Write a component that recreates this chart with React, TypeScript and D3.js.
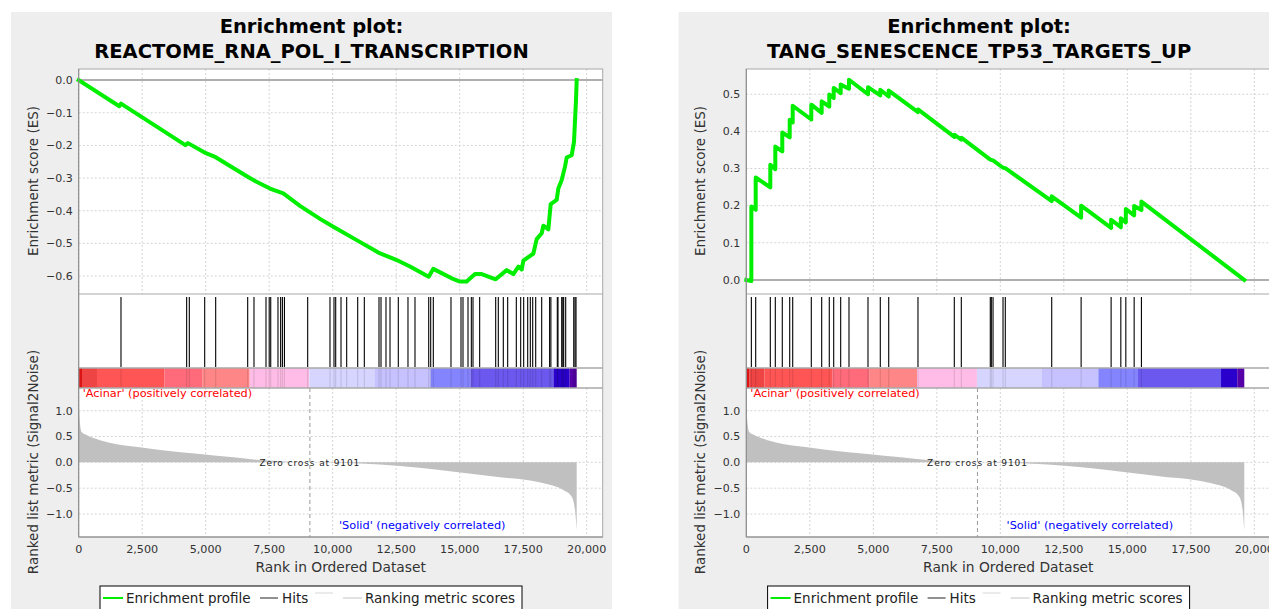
import React from "react";
import * as d3 from "d3";

// ---------- DATA ----------
const rankTicks = [0, 2500, 5000, 7500, 10000, 12500, 15000, 17500, 20000];
const metricTicks = [1.0, 0.5, 0.0, -0.5, -1.0];
const leftEsTicks = [0.0, -0.1, -0.2, -0.3, -0.4, -0.5, -0.6];
const rightEsTicks = [0.0, 0.1, 0.2, 0.3, 0.4, 0.5];

const leftTitle = "REACTOME_RNA_POL_I_TRANSCRIPTION";
const rightTitle = "TANG_SENESCENCE_TP53_TARGETS_UP";

const leftHits = [
  1665, 4250, 4355, 4960, 5393, 6653, 6901, 7374, 7500, 7560, 7846, 7950, 8020, 8100,
  9015, 9893, 10051, 10118, 10327, 10550, 10984, 11245, 11823, 11902, 12098, 12256,
  12583, 12964, 13240, 13780, 13858, 13961, 14657, 15051, 15130, 15327, 15458, 15524,
  15786, 16417, 16520, 16717, 16889, 17229, 17401, 17519, 17677, 17780, 17874, 17992,
  18228, 18540, 18590, 18843, 18870, 19016, 19060, 19094, 19173, 19490, 19540, 19579,
];

const rightHits = [
  199, 370, 945, 1142, 1417, 1709, 1827, 2559, 2968, 3267, 3441, 3716, 4043, 4791,
  5275, 5607, 6759, 8189, 8465, 9606, 9647, 9714, 10107, 10197, 12024, 13182, 14363,
  14745, 14942, 15270, 15556,
];

const leftEsRanks = [
  0, 1600, 1665, 4200, 4300, 4960, 5393, 6653, 6941, 7531, 8055, 8712, 9500, 10024,
  10945, 11797, 12520, 13043, 13780, 13961, 14685, 15012, 15275, 15603, 15866, 16417,
  16850, 17113, 17310, 17441, 17507, 17900, 18031, 18228, 18293, 18490, 18582, 18818,
  18883, 19016, 19146, 19212, 19409, 19500, 19579, 19606,
];
const leftEsValues = [
  0, -0.08, -0.072, -0.199, -0.193, -0.222, -0.236, -0.296, -0.309, -0.332, -0.347,
  -0.385, -0.425, -0.449, -0.49, -0.528, -0.551, -0.571, -0.602, -0.578, -0.607,
  -0.617, -0.617, -0.594, -0.594, -0.61, -0.582, -0.594, -0.571, -0.58, -0.553,
  -0.531, -0.487, -0.469, -0.446, -0.457, -0.38, -0.367, -0.332, -0.306, -0.265,
  -0.237, -0.23, -0.189, -0.061, 0,
];

const rightEsRanks = [
  0, 199, 199, 370, 370, 945, 945, 1142, 1142, 1417, 1417, 1709, 1709, 1827, 1827,
  2559, 2559, 2968, 2968, 3267, 3267, 3441, 3441, 3716, 3716, 4043, 4043, 4791, 4791,
  5275, 5275, 5607, 5607, 6759, 6759, 8189, 8189, 8465, 8465, 9606, 9714, 10107,
  10197, 12024, 12024, 13182, 13182, 14363, 14363, 14745, 14745, 14942, 14942, 15270,
  15270, 15556, 15556, 19606,
];
const rightEsValues = [
  0, -0.003, 0.198, 0.189, 0.276, 0.249, 0.31, 0.298, 0.359, 0.346, 0.397, 0.384,
  0.431, 0.424, 0.469, 0.432, 0.472, 0.45, 0.481, 0.467, 0.499, 0.49, 0.517, 0.503,
  0.526, 0.515, 0.539, 0.5, 0.519, 0.497, 0.512, 0.494, 0.51, 0.452, 0.459, 0.385,
  0.391, 0.378, 0.383, 0.324, 0.322, 0.302, 0.301, 0.212, 0.225, 0.168, 0.2, 0.14,
  0.162, 0.142, 0.166, 0.155, 0.191, 0.174, 0.199, 0.188, 0.211, 0,
];

const metricRanks = [
  0, 50, 118, 315, 840, 1495, 2480, 3465, 4775, 6087, 7137, 9101, 11075, 12650, 13961,
  15275, 16587, 17637, 18424, 19081, 19409, 19540, 19606,
];
const metricValues = [
  1.14, 0.75, 0.59, 0.53, 0.43, 0.35, 0.29, 0.225, 0.16, 0.097, 0.045, 0, -0.02, -0.07,
  -0.135, -0.21, -0.29, -0.34, -0.42, -0.535, -0.665, -0.92, -1.31,
];

const zeroCross = 9101;
const datasetSize = 19606;

const barStarts = [0, 130, 720, 3380, 4860, 6730, 9080, 11640, 13860, 15420, 18690, 19330];
const barEnds = [130, 720, 3380, 4860, 6730, 9080, 11640, 13860, 15420, 18690, 19330, 19606];
const barColors = [
  "#dc1414", "#ee4444", "#ff5555", "#ff6b7b", "#ff8686", "#ffbce6",
  "#d5d5ff", "#c6c2ff", "#8484ff", "#6b58ee", "#2a00cc", "#5600a8",
];

// ---------- LAYOUT ----------
const FONT = "DejaVu Sans";
const PX0 = 78.7;
const PX1 = 602.7;
const TOP_Y0 = 69;
const TOP_Y1 = 294;
const HIT_Y1 = 368;
const BAR_Y1 = 388;
const MET_Y1 = 537;

type PanelProps = {
  dx: number;
  title: string;
  esRanks: number[];
  esValues: number[];
  esTicks: number[];
  esDomain: [number, number];
  hits: number[];
};

function Panel({ dx, title, esRanks, esValues, esTicks, esDomain, hits }: PanelProps) {
  const x = d3.scaleLinear().domain([0, 20630]).range([PX0 + dx, PX1 + dx]);
  const yEs = d3.scaleLinear().domain(esDomain).range([TOP_Y1, TOP_Y0]);
  const yM = d3.scaleLinear().domain([-1.445, 1.44]).range([MET_Y1, BAR_Y1]);
  const fx = d3.format(",");
  const fy = d3.format(".1f");

  const esPts: [number, number][] = esRanks.map((r, i) => [r, esValues[i]]);
  const esLine = d3
    .line<[number, number]>()
    .x((d) => x(d[0]))
    .y((d) => yEs(d[1]));

  const mPts: [number, number][] = metricRanks.map((r, i) => [r, metricValues[i]]);
  const mArea = d3
    .area<[number, number]>()
    .x((d) => x(d[0]))
    .y0(yM(0))
    .y1((d) => yM(d[1]))
    .curve(d3.curveMonotoneX);

  const left = PX0 + dx;
  const right = PX1 + dx;
  const cx = 311.5 + dx;
  const border = "#a8a8a8";
  const grid = "#d4d4d4";

  return (
    <g>
      <rect x={11 + dx} y={12} width={601} height={620} fill="#eeeeee" />
      <text x={cx} y={33} textAnchor="middle" fontFamily={FONT} fontWeight="bold" fontSize={19.5} fill="#000">
        Enrichment plot:
      </text>
      <text x={cx} y={58} textAnchor="middle" fontFamily={FONT} fontWeight="bold" fontSize={19.5} fill="#000">
        {title}
      </text>

      {/* plot background */}
      <rect x={left} y={TOP_Y0} width={right - left} height={MET_Y1 - TOP_Y0} fill="#ffffff" />

      {/* top grid */}
      {rankTicks.map((t) => (
        <line key={"tg" + t} x1={x(t)} x2={x(t)} y1={TOP_Y0} y2={TOP_Y1} stroke={grid} strokeDasharray="2,2" />
      ))}
      {esTicks.filter((t) => t !== 0).map((t) => (
        <line key={"tyg" + t} x1={left} x2={right} y1={yEs(t)} y2={yEs(t)} stroke={grid} strokeDasharray="2,2" />
      ))}
      <line x1={left} x2={right} y1={yEs(0)} y2={yEs(0)} stroke="#959595" strokeWidth={1.5} />

      {/* metric grid */}
      {rankTicks.map((t) => (
        <line key={"mg" + t} x1={x(t)} x2={x(t)} y1={BAR_Y1} y2={MET_Y1} stroke={grid} strokeDasharray="2,2" />
      ))}
      {metricTicks.map((t) => (
        <line key={"myg" + t} x1={left} x2={right} y1={yM(t)} y2={yM(t)} stroke={grid} strokeDasharray="2,2" />
      ))}

      {/* ES curve */}
      <path d={esLine(esPts) || ""} fill="none" stroke="#00ee00" strokeWidth={4} strokeLinejoin="round" strokeLinecap="square" />

      {/* hits */}
      {hits.map((h, i) => (
        <line key={"h" + i} x1={x(h)} x2={x(h)} y1={297} y2={367} stroke="#000" strokeWidth={1.1} />
      ))}

      {/* color bar */}
      {barStarts.map((s, i) => (
        <rect key={"b" + i} x={x(s)} y={HIT_Y1} width={x(barEnds[i]) - x(s)} height={BAR_Y1 - HIT_Y1} fill={barColors[i]} />
      ))}
      {hits.map((h, i) => (
        <line key={"hb" + i} x1={x(h)} x2={x(h)} y1={HIT_Y1} y2={BAR_Y1} stroke="#000" strokeOpacity={0.12} strokeWidth={1.1} />
      ))}

      {/* metric area */}
      <path d={mArea(mPts) || ""} fill="#c0c0c0" />
      <line x1={x(zeroCross)} x2={x(zeroCross)} y1={BAR_Y1} y2={MET_Y1} stroke="#9a9a9a" strokeDasharray="4,3" />
      <text x={x(zeroCross)} y={yM(0) + 3.3} textAnchor="middle" fontFamily={FONT} fontSize={9} letterSpacing={0.9} fill="#222">
        {"Zero cross at " + zeroCross}
      </text>
      <text x={left + 4} y={396.5} fontFamily={FONT} fontSize={11.3} fill="#ff0000">
        'Acinar' (positively correlated)
      </text>
      <text x={339 + dx} y={529} fontFamily={FONT} fontSize={11.3} fill="#0000ff">
        'Solid' (negatively correlated)
      </text>

      {/* borders */}
      <rect x={left} y={TOP_Y0} width={right - left} height={MET_Y1 - TOP_Y0} fill="none" stroke={border} />
      <line x1={left} x2={right} y1={TOP_Y1} y2={TOP_Y1} stroke={border} />
      <line x1={left} x2={right} y1={HIT_Y1} y2={HIT_Y1} stroke={border} strokeWidth={1.5} />
      <line x1={left} x2={right} y1={BAR_Y1} y2={BAR_Y1} stroke={border} strokeWidth={1.5} />
      <line x1={left} x2={left} y1={TOP_Y0} y2={MET_Y1} stroke="#8a8a8a" />
      <line x1={left} x2={right} y1={MET_Y1} y2={MET_Y1} stroke="#8a8a8a" />

      {/* y tick labels */}
      {esTicks.map((t) => (
        <text key={"yl" + t} x={left - 6} y={yEs(t)} dy="0.35em" textAnchor="end" fontFamily={FONT} fontSize={11} fill="#333">
          {fy(t)}
        </text>
      ))}
      {metricTicks.map((t) => (
        <text key={"ml" + t} x={left - 6} y={yM(t)} dy="0.35em" textAnchor="end" fontFamily={FONT} fontSize={11} fill="#333">
          {fy(t)}
        </text>
      ))}
      {rankTicks.map((t) => (
        <text key={"xl" + t} x={x(t)} y={553} textAnchor="middle" fontFamily={FONT} fontSize={11.2} fill="#333">
          {fx(t)}
        </text>
      ))}

      {/* axis titles */}
      <text transform={`translate(${37.5 + dx},${181}) rotate(-90)`} textAnchor="middle" fontFamily={FONT} fontSize={13.5} fill="#333">
        Enrichment score (ES)
      </text>
      <text transform={`translate(${37.5 + dx},${462}) rotate(-90)`} textAnchor="middle" fontFamily={FONT} fontSize={13.5} fill="#333">
        Ranked list metric (Signal2Noise)
      </text>
      <text x={(left + right) / 2} y={572} textAnchor="middle" fontFamily={FONT} fontSize={13.8} fill="#333">
        Rank in Ordered Dataset
      </text>

      {/* legend */}
      <rect x={100 + dx} y={586} width={422} height={40} fill="#ffffff" stroke="#000" />
      <line x1={103 + dx} x2={123 + dx} y1={598} y2={598} stroke="#00ee00" strokeWidth={2} />
      <text x={126 + dx} y={603} fontFamily={FONT} fontSize={13.5} fill="#222">Enrichment profile</text>
      <line x1={260 + dx} x2={278 + dx} y1={598} y2={598} stroke="#222" strokeWidth={1} />
      <text x={282 + dx} y={603} fontFamily={FONT} fontSize={13.5} fill="#222">Hits</text>
      <line x1={315 + dx} x2={333 + dx} y1={593} y2={593} stroke="#e4e4e4" strokeWidth={1.5} />
      <line x1={343 + dx} x2={362 + dx} y1={598} y2={598} stroke="#c4c4c4" strokeWidth={1} />
      <text x={365 + dx} y={603} fontFamily={FONT} fontSize={13.5} fill="#222">Ranking metric scores</text>
    </g>
  );
}

export default function App() {
  return (
    <svg
      width={1269}
      height={609}
      style={{ position: "absolute", left: 0, top: 0, background: "#ffffff" }}
    >
      <rect x={0} y={0} width={1269} height={609} fill="#ffffff" />
      <Panel
        dx={0}
        title={leftTitle}
        esRanks={leftEsRanks}
        esValues={leftEsValues}
        esTicks={leftEsTicks}
        esDomain={[-0.655, 0.034]}
        hits={leftHits}
      />
      <Panel
        dx={667.6}
        title={rightTitle}
        esRanks={rightEsRanks}
        esValues={rightEsValues}
        esTicks={rightEsTicks}
        esDomain={[-0.038, 0.568]}
        hits={rightHits}
      />
    </svg>
  );
}
